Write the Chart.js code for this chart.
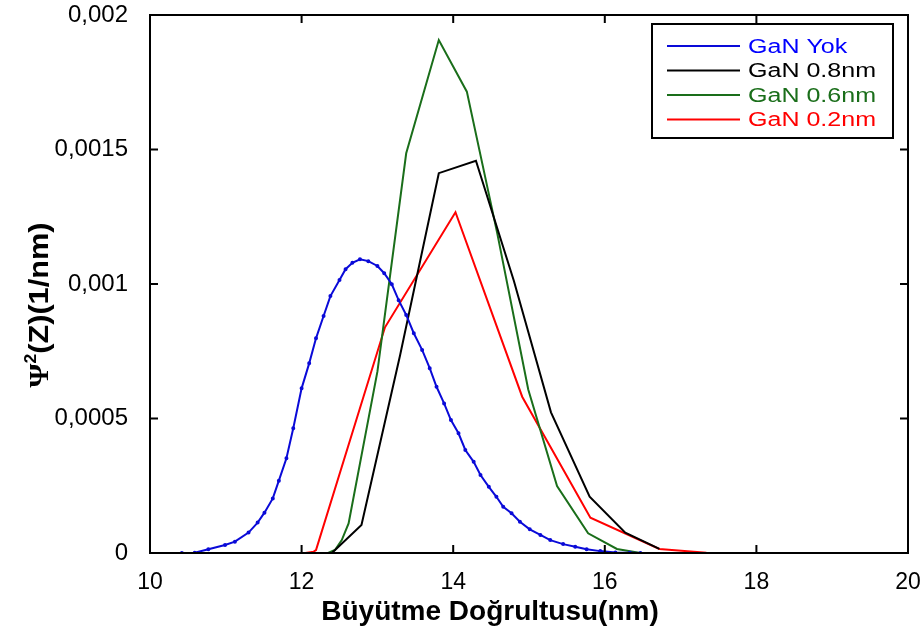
<!DOCTYPE html>
<html>
<head>
<meta charset="utf-8">
<script src="https://cdn.jsdelivr.net/npm/chart.js@4.4.0/dist/chart.umd.min.js"></script>
<style>
html, body { margin: 0; padding: 0; background: #fff; }
#wrap { width: 923px; height: 637px; }
</style>
</head>
<body>
<div id="wrap"><canvas id="psi"></canvas></div>
<script>
// values
var seriesNames = ["GaN Yok", "GaN 0.8nm", "GaN 0.6nm", "GaN 0.2nm"];

var yokX = [10.42, 10.59, 10.77, 10.99, 11.12, 11.30, 11.42, 11.51, 11.62, 11.70, 11.80, 11.89,
  12.00, 12.10, 12.19, 12.29, 12.38, 12.50, 12.58, 12.67, 12.77, 12.88, 13.00, 13.09, 13.19,
  13.28, 13.38, 13.48, 13.59, 13.69, 13.78, 13.88, 13.97, 14.07, 14.16, 14.27, 14.36, 14.47,
  14.57, 14.66, 14.77, 14.88, 15.01, 15.15, 15.28, 15.45, 15.61, 15.76, 15.94, 16.14, 16.33, 16.47];
var yokY = [0, 0.000001, 0.000014, 0.00003, 0.000042, 0.000076, 0.000113, 0.00015, 0.000203, 0.000269,
  0.000352, 0.000464, 0.000612, 0.000705, 0.000798, 0.000881, 0.000955, 0.001015, 0.001055, 0.001079,
  0.001092, 0.001085, 0.001067, 0.00104, 0.000999, 0.00094, 0.000885, 0.000817, 0.000755, 0.000687,
  0.000618, 0.000556, 0.000494, 0.000445, 0.000383, 0.000339, 0.00029, 0.000246, 0.000209, 0.000172,
  0.000148, 0.000116, 0.000088, 0.000067, 0.000048, 0.000033, 0.000023, 0.000014, 0.000007, 0.000002,
  0.000001, 0];

var nm08X = [12.40, 12.79, 13.30, 13.81, 14.30, 14.80, 15.29, 15.80, 16.27, 16.72];
var nm08Y = [0, 0.000104, 0.000736, 0.001412, 0.001458, 0.001012, 0.000523, 0.000209, 0.0000755, 0.000015];

var nm06X = [12.35, 12.44, 12.53, 12.62, 13.00, 13.38, 13.81, 14.18, 14.58, 14.99, 15.37, 15.78, 16.16, 16.47];
var nm06Y = [0, 0.000011, 0.000048, 0.00011, 0.000674, 0.001486, 0.001907, 0.001715, 0.00119, 0.000608,
  0.000249, 0.000073, 0.000015, 0];

var nm02X = [12.05, 12.16, 12.19, 13.10, 14.03, 14.91, 15.81, 16.72, 17.34];
var nm02Y = [0, 0.000005, 0.000011, 0.000839, 0.001267, 0.000581, 0.000131, 0.000015, 0.000001];

var lineColors = ["#0a0ad8", "#000000", "#1a6e1a", "#ff0000"];
var textColors = ["#0000ff", "#000000", "#1a6e1a", "#ff0000"];

var xTitle = "Büyütme Doğrultusu(nm)";

function pairs(xs, ys) {
  return xs.map(function (v, i) { return { x: v, y: ys[i] }; });
}

var FONT = '"Liberation Sans", Arial, sans-serif';
Chart.defaults.font.family = FONT;
Chart.defaults.color = "#000";

// frame with inward ticks, legend box and axis titles
var decor = {
  id: "decor",
  afterDatasetsDraw: function (chart) {
    var ctx = chart.ctx, a = chart.chartArea, x = chart.scales.x, y = chart.scales.y;
    ctx.save();
    ctx.strokeStyle = "#000";
    ctx.lineWidth = 2;
    ctx.strokeRect(a.left, a.top, a.right - a.left, a.bottom - a.top);
    ctx.beginPath();
    x.ticks.forEach(function (t) {
      if (t.value <= x.min || t.value >= x.max) return;
      var px = x.getPixelForValue(t.value);
      ctx.moveTo(px, a.bottom); ctx.lineTo(px, a.bottom - 8);
      ctx.moveTo(px, a.top); ctx.lineTo(px, a.top + 8);
    });
    y.ticks.forEach(function (t) {
      if (t.value <= y.min || t.value >= y.max) return;
      var py = y.getPixelForValue(t.value);
      ctx.moveTo(a.left, py); ctx.lineTo(a.left + 8, py);
      ctx.moveTo(a.right, py); ctx.lineTo(a.right - 8, py);
    });
    ctx.stroke();

    // legend
    var bx = a.right - 256, by = a.top + 9, bw = 241, bh = 114;
    ctx.fillStyle = "#fff";
    ctx.fillRect(bx, by, bw, bh);
    ctx.strokeRect(bx, by, bw, bh);
    ctx.font = "20px " + FONT;
    var sx = 128 / ctx.measureText("GaN 0.8nm").width;
    ctx.textBaseline = "middle";
    ctx.textAlign = "left";
    chart.data.datasets.forEach(function (ds, i) {
      var ry = by + 22 + i * 24.5;
      ctx.strokeStyle = lineColors[i];
      ctx.beginPath();
      ctx.moveTo(bx + 15, ry); ctx.lineTo(bx + 88, ry);
      ctx.stroke();
      ctx.save();
      ctx.translate(bx + 96, ry + 1);
      ctx.scale(sx, 1);
      ctx.fillStyle = textColors[i];
      ctx.fillText(ds.label, 0, 0);
      ctx.restore();
    });

    // x title
    ctx.fillStyle = "#000";
    ctx.font = "bold 28px " + FONT;
    ctx.textAlign = "center";
    ctx.textBaseline = "alphabetic";
    ctx.fillText(xTitle, 490, 620);

    // y title: Psi squared (Z)(1/nm)
    ctx.save();
    ctx.translate(48, 305);
    ctx.rotate(-Math.PI / 2);
    ctx.textAlign = "left";
    var f1 = 'bold 28px "Liberation Serif", serif', f2 = "bold 16px " + FONT, f3 = "bold 28px " + FONT;
    ctx.font = f1; var w1 = ctx.measureText("Ψ").width;
    ctx.font = f2; var w2 = ctx.measureText("2").width;
    ctx.font = f3; var w3 = ctx.measureText("(Z)(1/nm)").width;
    var sx2 = 165 / (w1 + w2 + w3);
    ctx.scale(sx2, 1);
    var start = -(w1 + w2 + w3) / 2;
    ctx.font = f1; ctx.fillText("Ψ", start, 0);
    ctx.font = f2; ctx.fillText("2", start + w1, -12);
    ctx.font = f3; ctx.fillText("(Z)(1/nm)", start + w1 + w2, 0);
    ctx.restore();
    ctx.restore();
  }
};

var allX = [yokX, nm08X, nm06X, nm02X];
var allY = [yokY, nm08Y, nm06Y, nm02Y];

// invisible tick marks give the label offset without adding layout padding
var hiddenTicks = function (len) {
  return { display: true, drawOnChartArea: false, drawTicks: true, tickLength: len, color: "rgba(0,0,0,0)" };
};

new Chart(document.getElementById("psi"), {
  type: "scatter",
  data: {
    datasets: seriesNames.map(function (name, i) {
      return {
        label: name,
        data: pairs(allX[i], allY[i]),
        showLine: true,
        borderColor: lineColors[i],
        backgroundColor: lineColors[i],
        borderWidth: 2,
        pointRadius: i === 0 ? 1 : 0,
        tension: 0
      };
    })
  },
  options: {
    responsive: true,
    maintainAspectRatio: false,
    animation: false,
    devicePixelRatio: 1,
    layout: { padding: { left: 0, right: 15, top: 15, bottom: 0 } },
    plugins: { legend: { display: false }, tooltip: { enabled: false } },
    scales: {
      x: {
        type: "linear",
        min: 10,
        max: 20,
        grid: hiddenTicks(16),
        border: { display: false },
        ticks: { stepSize: 2, padding: 0, font: { size: 23 }, color: "#000" },
        afterFit: function (s) { s.height = 84; }
      },
      y: {
        min: 0,
        max: 0.002,
        grid: hiddenTicks(22),
        border: { display: false },
        ticks: {
          stepSize: 0.0005,
          padding: 0,
          font: { size: 24 },
          color: "#000",
          callback: function (v) { return v === 0 ? "0" : String(+v.toFixed(4)).replace(".", ","); }
        },
        afterFit: function (s) { s.width = 150; }
      }
    }
  },
  plugins: [decor]
});
</script>
</body>
</html>
